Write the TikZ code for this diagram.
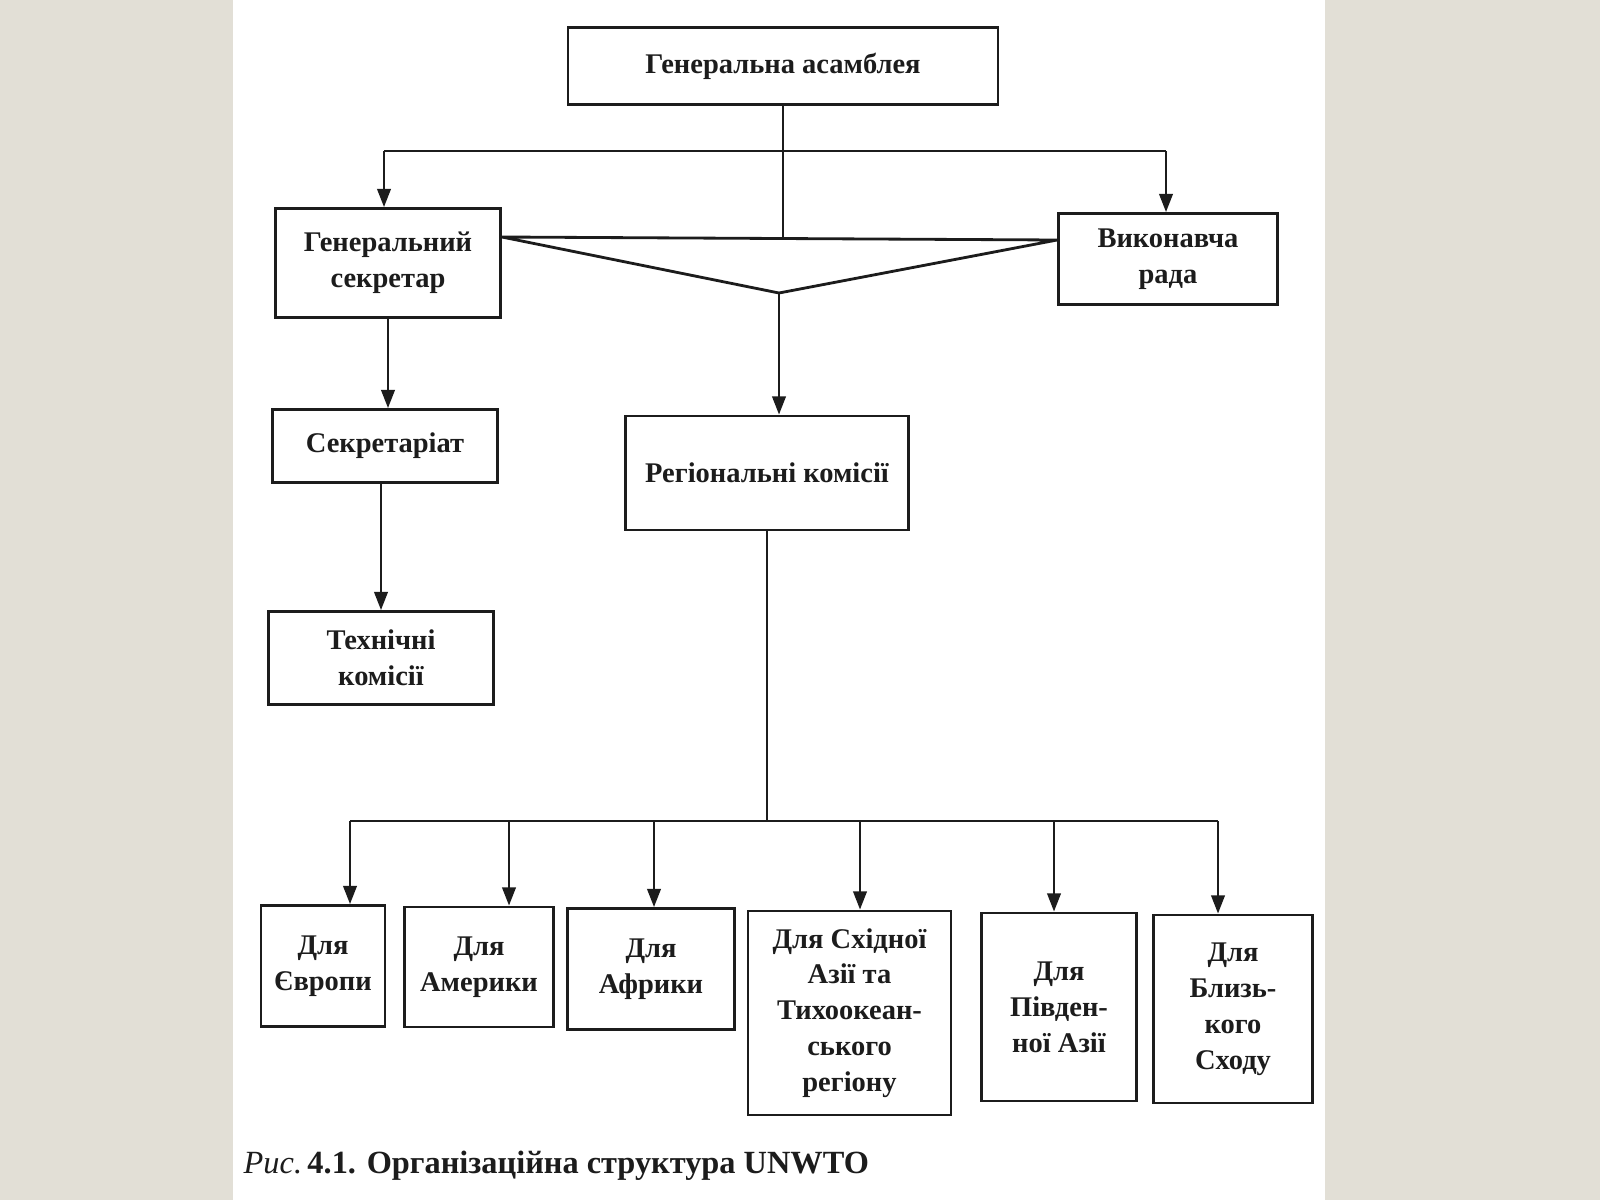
\documentclass[tikz,border=0pt]{standalone}
\usepackage{fontspec}
\setmainfont{Liberation Serif}
\usetikzlibrary{arrows.meta,calc}
\definecolor{bgc}{HTML}{E2DFD6}
\definecolor{ink}{HTML}{1C1C1C}
\newcommand\boxfont{\fontsize{8.1}{10.2}\selectfont\bfseries}
\begin{document}
\begin{tikzpicture}[x=0.01cm,y=-0.01cm,
  box/.style={draw=ink,line width=0.75pt,inner sep=0pt,align=center,font=\boxfont,text=ink},
  link/.style={draw=ink,line width=0.8pt},
  arr/.style={link,-{Triangle[length=5.2pt,width=3.8pt]}}]
\useasboundingbox (0,0) rectangle (1600,1200);
\fill[bgc] (0,0) rectangle (1600,1200);
\fill[white] (233,0) rectangle (1325,1200);
% boxes
\node[box,minimum width=4.30cm,minimum height=0.77cm] (ga) at (783,66) {Генеральна асамблея};
\node[box,minimum width=2.25cm,minimum height=1.09cm] (gs) at (388,263) {Генеральний\\секретар};
\node[box,minimum width=2.19cm,minimum height=0.91cm] (vr) at (1168,259) {Виконавча\\рада};
\node[box,minimum width=2.25cm,minimum height=0.73cm] (sec) at (385,446) {Секретаріат};
\node[box,minimum width=2.25cm,minimum height=0.93cm] (tech) at (381,658) {Технічні\\комісії};
\node[box,minimum width=2.83cm,minimum height=1.14cm] (rk) at (767,473) {Регіональні комісії};
\node[box,minimum width=1.24cm,minimum height=1.21cm] (eu) at (323,966) {Для\\Європи};
\node[box,minimum width=1.49cm,minimum height=1.20cm] (am) at (479,967) {Для\\Америки};
\node[box,minimum width=1.67cm,minimum height=1.21cm] (af) at (651,969) {Для\\Африки};
\node[box,minimum width=2.03cm,minimum height=2.04cm] (ea) at (849.5,1013) {Для Східної\\Азії та\\Тихоокеан-\\ського\\регіону};
\node[box,minimum width=1.55cm,minimum height=1.88cm] (sa) at (1059,1007) {Для\\Півден-\\ної Азії};
\node[box,minimum width=1.59cm,minimum height=1.88cm] (me) at (1233,1009) {Для\\Близь-\\кого\\Сходу};
% caption
\node[anchor=west,inner sep=0pt,text=ink,font=\fontsize{9.2}{11}\selectfont] (cap) at (243,1166) {\textit{Рис.}\,\textbf{4.1. Організаційна структура UNWTO}};
% top connectors
\coordinate (hl) at (384,151);
\coordinate (hr) at (1166,151);
\coordinate (tleft) at (gs.east |- 0,237);
\coordinate (tright) at (vr.west |- 0,240);
\coordinate (apex) at (779,293);
\draw[link] (ga.south) -- (ga.south |- tleft);
\draw[link] (hl) -- (hr);
\draw[arr] (hl) -- (hl |- gs.north);
\draw[arr] (hr) -- (hr |- vr.north);
\draw[link,line join=round] (tleft) -- (tright) -- (apex) -- cycle;
\draw[arr] (apex) -- (apex |- rk.north);
\draw[arr] (gs.south) -- (gs.south |- sec.north);
\draw[arr] (tech.north |- sec.south) -- (tech.north);
% bottom connectors
\coordinate (bj) at (rk.south |- 0,821);
\coordinate (bl) at (350,821);
\coordinate (br) at (1218,821);
\draw[link] (rk.south) -- (bj);
\draw[link] (bl) -- (br);
\draw[arr] (bl) -- (bl |- eu.north);
\draw[arr] (509,821) -- (509,0 |- am.north);
\draw[arr] (654,821) -- (654,0 |- af.north);
\draw[arr] (860,821) -- (860,0 |- ea.north);
\draw[arr] (1054,821) -- (1054,0 |- sa.north);
\draw[arr] (br) -- (br |- me.north);
\end{tikzpicture}
\end{document}
